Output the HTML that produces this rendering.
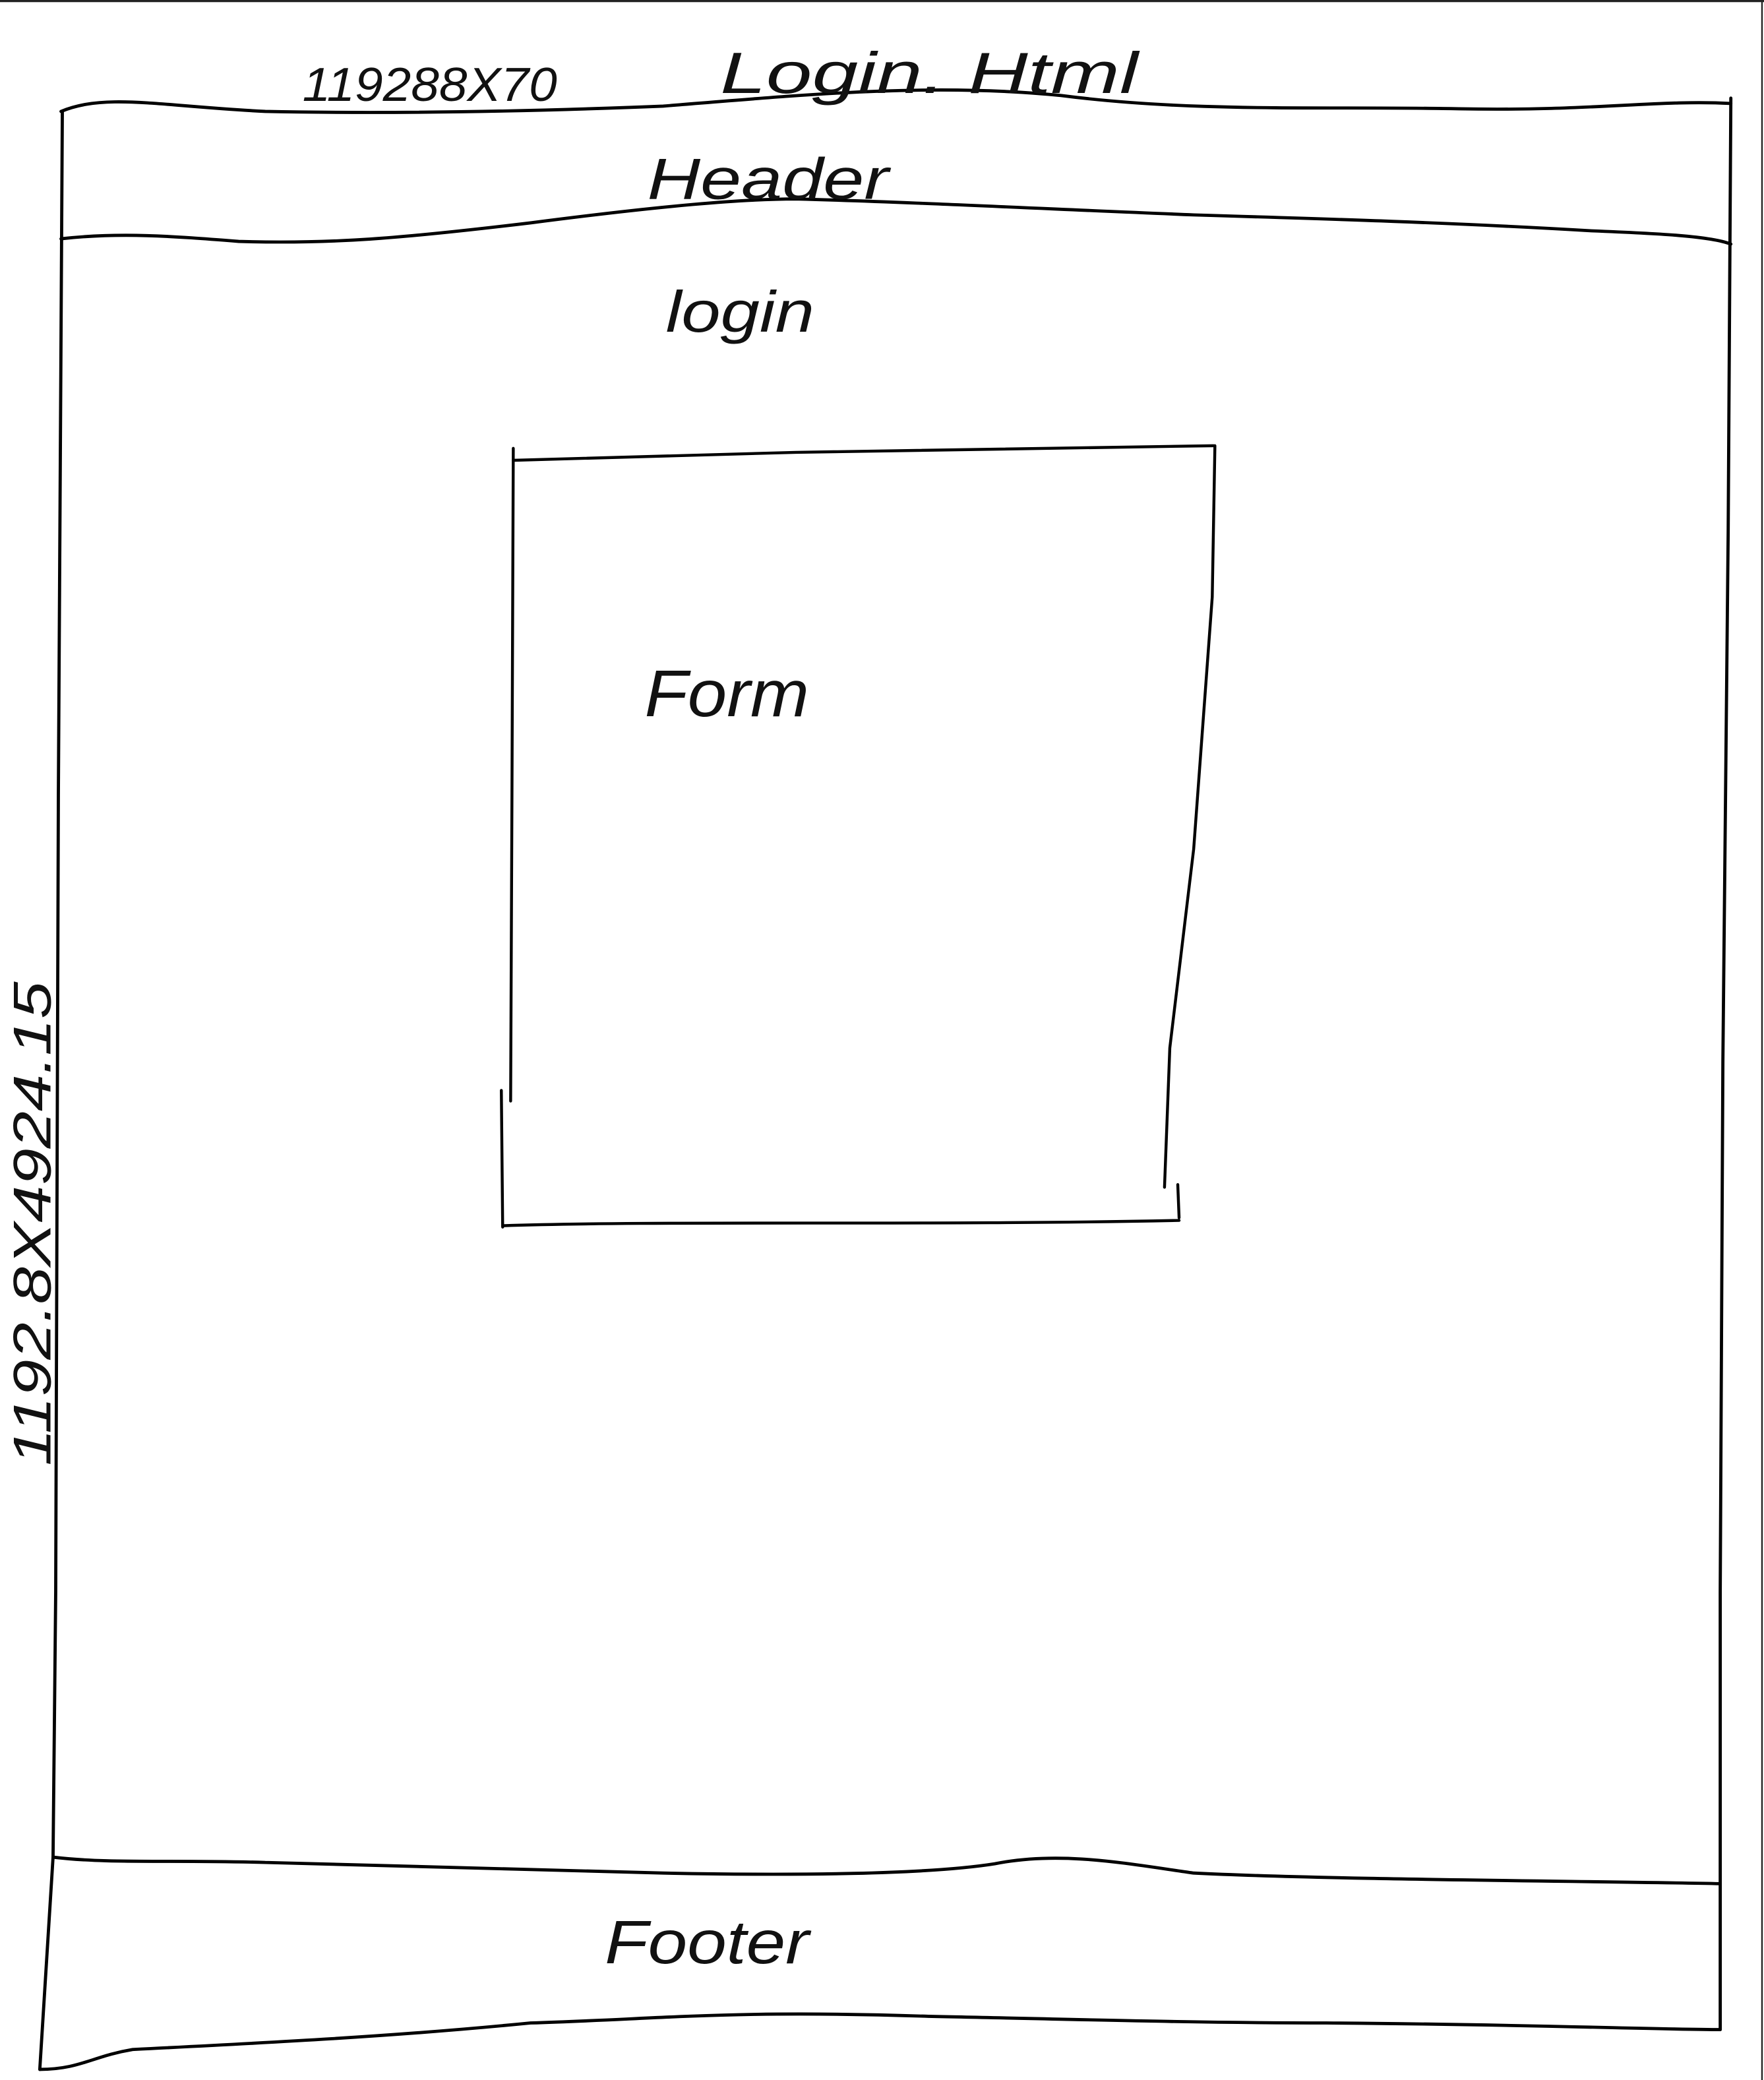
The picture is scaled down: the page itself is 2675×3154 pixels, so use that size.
<!DOCTYPE html>
<html><head><meta charset="utf-8"><style>
html,body{margin:0;padding:0;background:#fff;}
svg{display:block;}
text{font-family:"Liberation Sans",sans-serif;fill:#111;font-style:italic;}
</style></head><body>
<svg width="2675" height="3154" viewBox="0 0 1330 1568" preserveAspectRatio="none">
<rect x="0" y="0" width="1330" height="1568" fill="#fff"/>
<line x1="0" y1="0.8" x2="1330" y2="0.8" stroke="#222" stroke-width="1.6"/>
<line x1="1328.5" y1="0" x2="1328.5" y2="1568" stroke="#222" stroke-width="1.2"/>
<g fill="none" stroke="#000" stroke-width="2.4" stroke-linecap="round">
<path d="M46,84 C80,70 120,80 200,84 C300,86 400,84 500,80 C600,72 700,62 800,72 C900,85 1000,80 1100,82 C1200,84 1250,75 1305,78"/>
<path d="M47,84 L44,600 L42,1200 L40,1400 L30,1560"/>
<path d="M1305,74 L1303,400 L1299,800 L1297,1200 L1297,1530"/>
<path d="M30,1560 C60,1560 70,1550 100,1545 C200,1540 300,1535 400,1525 C500,1522 550,1515 700,1520 C800,1522 900,1525 1000,1525 C1150,1526 1250,1530 1297,1530"/>
<path d="M46,180 C90,175 130,178 180,182 C250,184 300,180 400,168 C500,155 560,150 600,150 C680,152 800,158 900,162 C1000,165 1100,168 1200,174 C1250,176 1290,178 1305,184"/>
<path d="M40,1400 C80,1405 130,1402 200,1404 C300,1407 400,1410 500,1412 C600,1414 700,1413 750,1405 C800,1395 850,1405 900,1412 C1000,1417 1200,1418 1297,1420"/>
</g>
<g fill="none" stroke="#000" stroke-width="2.2" stroke-linecap="round">
<path d="M387,347 L600,341 L915,336"/>
<path d="M387,338 L386,600 L385,830 M378,822 L379,925"/>
<path d="M916,336 L914,450 L900,640 L882,790 L878,895 M888,893 L889,918"/>
<path d="M379,924 C500,920 700,924 889,920"/>
</g>
<text x="228" y="76" font-size="36" textLength="192" lengthAdjust="spacingAndGlyphs">119288X70</text>
<text x="543" y="70" font-size="44" textLength="315" lengthAdjust="spacingAndGlyphs">Login. Html</text>
<text x="488" y="150" font-size="44" textLength="182" lengthAdjust="spacingAndGlyphs">Header</text>
<text x="502" y="250" font-size="44" textLength="112" lengthAdjust="spacingAndGlyphs">login</text>
<text x="486" y="540" font-size="50" textLength="124" lengthAdjust="spacingAndGlyphs">Form</text>
<text x="456" y="1480" font-size="46" textLength="154" lengthAdjust="spacingAndGlyphs">Footer</text>
<text transform="translate(38,1105) rotate(-90)" font-size="40" textLength="365" lengthAdjust="spacingAndGlyphs">1192.8X4924.15</text>
</svg>
</body></html>
